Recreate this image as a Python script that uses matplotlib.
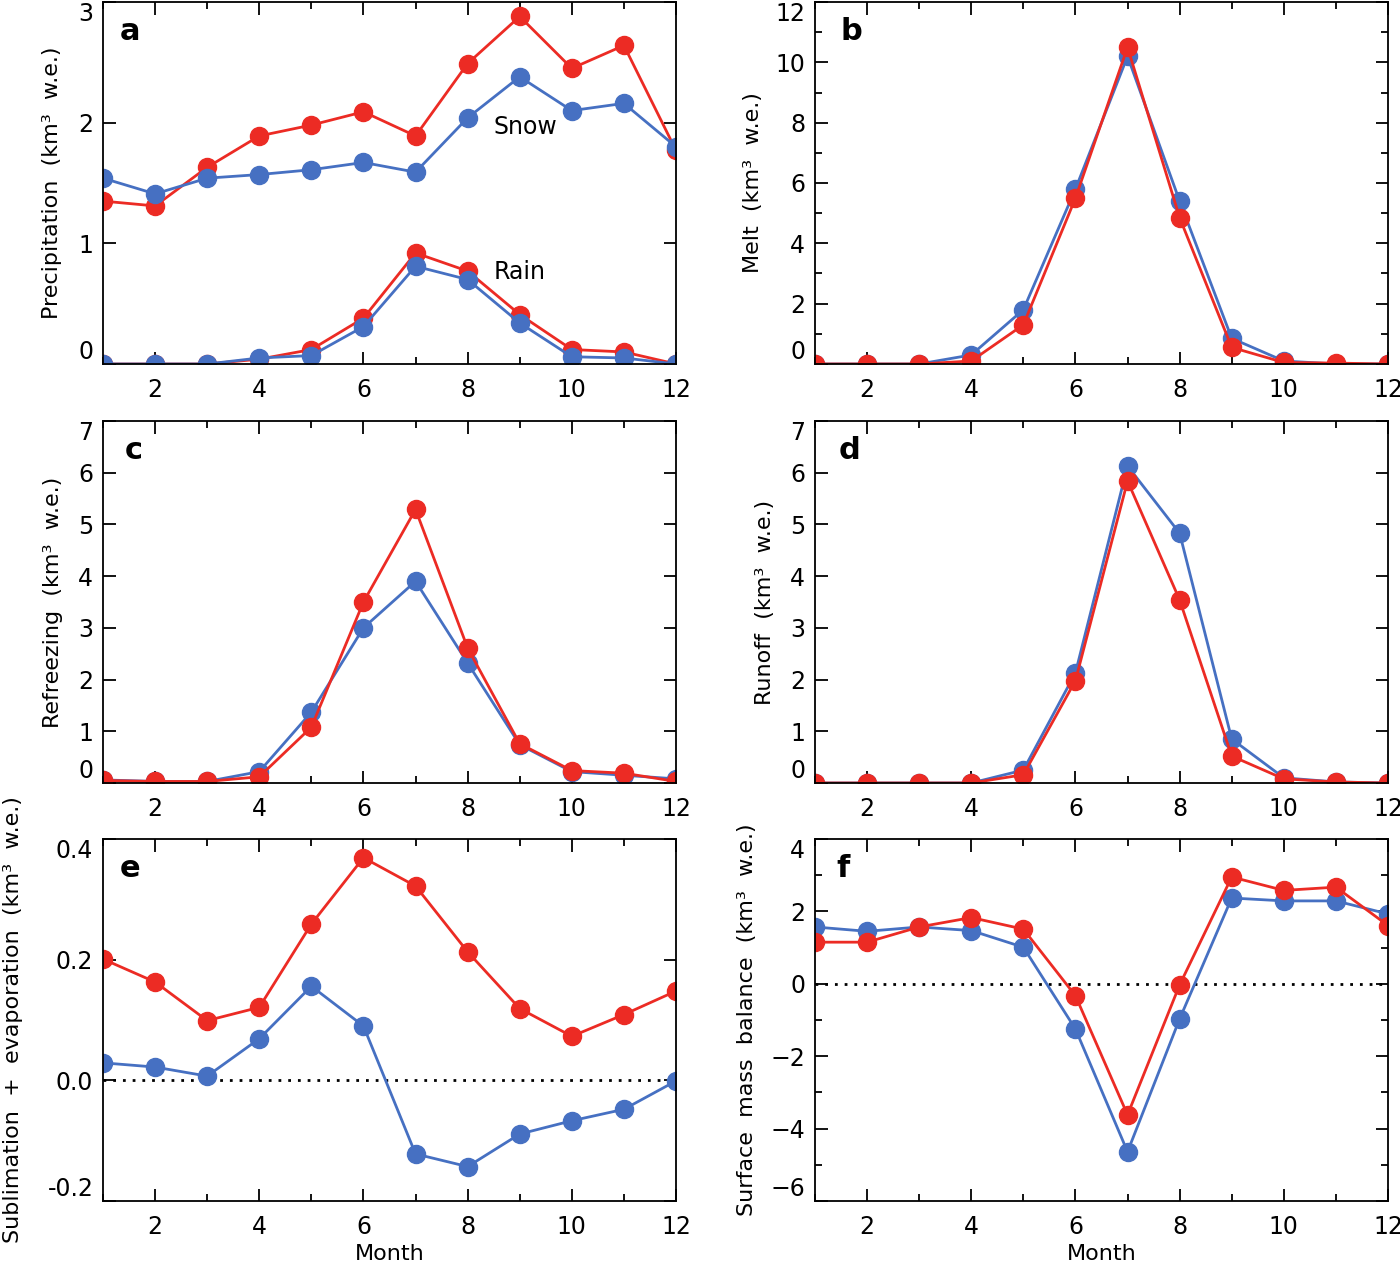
import numpy as np
import matplotlib.pyplot as plt
from matplotlib.ticker import MultipleLocator

months = np.arange(1, 13)

# a: precipitation (snow and rain)
snow_red = [1.35, 1.31, 1.63, 1.89, 1.98, 2.09, 1.89, 2.49, 2.88, 2.45, 2.64, 1.77]
snow_blue = [1.54, 1.41, 1.54, 1.57, 1.61, 1.67, 1.59, 2.04, 2.38, 2.10, 2.16, 1.80]
rain_red = [0.0, 0.0, 0.0, 0.04, 0.12, 0.38, 0.92, 0.77, 0.41, 0.12, 0.10, 0.0]
rain_blue = [0.0, 0.0, 0.0, 0.05, 0.07, 0.31, 0.81, 0.70, 0.34, 0.06, 0.05, 0.0]
# b: melt
melt_red = [0.0, 0.0, 0.0, 0.1, 1.3, 5.5, 10.5, 4.85, 0.55, 0.05, 0.03, 0.0]
melt_blue = [0.0, 0.0, 0.0, 0.3, 1.8, 5.8, 10.2, 5.4, 0.85, 0.1, 0.0, 0.0]
# c: refreezing
refr_red = [0.05, 0.03, 0.03, 0.12, 1.08, 3.5, 5.29, 2.61, 0.76, 0.24, 0.19, 0.03]
refr_blue = [0.06, 0.03, 0.03, 0.22, 1.37, 3.0, 3.9, 2.32, 0.74, 0.22, 0.15, 0.08]
# d: runoff
runoff_red = [0.0, 0.0, 0.0, 0.0, 0.16, 1.98, 5.84, 3.54, 0.52, 0.08, 0.02, 0.0]
runoff_blue = [0.0, 0.0, 0.0, 0.0, 0.25, 2.13, 6.13, 4.83, 0.85, 0.1, 0.02, 0.0]
# e: sublimation + evaporation
subl_red = [0.201, 0.163, 0.099, 0.121, 0.259, 0.369, 0.322, 0.213, 0.119, 0.073, 0.109, 0.148]
subl_blue = [0.029, 0.022, 0.007, 0.069, 0.156, 0.090, -0.122, -0.143, -0.089, -0.067, -0.048, -0.001]
# f: surface mass balance
smb_red = [1.15, 1.15, 1.57, 1.83, 1.51, -0.33, -3.62, -0.03, 2.95, 2.58, 2.67, 1.61]
smb_blue = [1.57, 1.45, 1.57, 1.47, 1.01, -1.25, -4.64, -0.97, 2.37, 2.29, 2.29, 1.93]

RED = '#ec2b24'
BLUE = '#4670c2'

plt.rcParams['font.family'] = ['DejaVu Sans']
plt.rcParams['font.size'] = 16

fig = plt.figure(figsize=(14, 12.67), dpi=100)

lefts = [103 / 1400, 815 / 1400]
bottoms = [1 - 364 / 1267, 1 - 783 / 1267, 1 - 1201 / 1267]
w = 573 / 1400
h = 362 / 1267

# letter, y label, y limits, major step, minor step, label x (axes fraction)
panels = [
    ('a', 'Precipitation  (km³  w.e.)', (0, 3), 1, None, -0.072),
    ('b', 'Melt  (km³  w.e.)', (0, 12), 2, 1, -0.091),
    ('c', 'Refreezing  (km³  w.e.)', (0, 7), 1, None, -0.070),
    ('d', 'Runoff  (km³  w.e.)', (0, 7), 1, None, -0.070),
    ('e', 'Sublimation  +  evaporation  (km³  w.e.)', (-0.2, 0.4), 0.2, None, -0.140),
    ('f', 'Surface  mass  balance  (km³  w.e.)', (-6, 4), 2, 1, -0.101),
]

letter_x = {'a': 0.030, 'b': 0.045, 'c': 0.038, 'd': 0.042, 'e': 0.030, 'f': 0.037}

axes = {}
for i, (letter, ylab, ylim, major, minor, labx) in enumerate(panels):
    row, col = divmod(i, 2)
    ax = fig.add_axes([lefts[col], bottoms[row], w, h])
    axes[letter] = ax
    ax.set_xlim(1, 12)
    ax.set_ylim(*ylim)
    ax.xaxis.set_major_locator(MultipleLocator(2))
    ax.xaxis.set_minor_locator(MultipleLocator(1))
    ax.set_yticks(np.round(np.arange(ylim[0], ylim[1] + major / 2, major), 3))
    if minor:
        ax.yaxis.set_minor_locator(MultipleLocator(minor))
    ax.tick_params(which='both', direction='in', top=True, right=True, width=1.3)
    ax.tick_params(which='major', length=9)
    ax.tick_params(which='minor', length=5)
    ax.tick_params(axis='x', pad=10, labelsize=17)
    ax.tick_params(axis='y', pad=7, labelsize=17)
    for sp in ax.spines.values():
        sp.set_linewidth(1.3)
    ax.set_ylabel(ylab, fontsize=16)
    ax.yaxis.set_label_coords(labx, 0.5)
    ax.text(letter_x[letter], 0.895, letter, transform=ax.transAxes,
            fontsize=22, fontweight='bold', ha='left', va='baseline')

style = dict(lw=2.0, marker='o', ms=13)

def pair(ax, red, blue, red_on_top=True):
    if red_on_top:
        ax.plot(months, blue, color=BLUE, **style)
        ax.plot(months, red, color=RED, **style)
    else:
        ax.plot(months, red, color=RED, **style)
        ax.plot(months, blue, color=BLUE, **style)

pair(axes['a'], snow_red, snow_blue, red_on_top=False)
pair(axes['a'], rain_red, rain_blue, red_on_top=False)
axes['a'].text(8.5, 1.96, 'Snow', fontsize=17, ha='left', va='center')
axes['a'].text(8.5, 0.76, 'Rain', fontsize=17, ha='left', va='center')

pair(axes['b'], melt_red, melt_blue)
pair(axes['c'], refr_red, refr_blue)
pair(axes['d'], runoff_red, runoff_blue)

for key in ('e', 'f'):
    axes[key].axhline(0, color='black', ls=(0, (1, 2.5)), lw=2, zorder=1)
    axes[key].set_xlabel('Month', fontsize=16, labelpad=4)

pair(axes['e'], subl_red, subl_blue)
pair(axes['f'], smb_red, smb_blue)
axes['e'].yaxis.set_major_formatter(plt.FormatStrFormatter('%.1f'))

# keep the end labels inside the frame, as in the original
for ax in axes.values():
    ticks = ax.yaxis.get_major_ticks()
    ticks[0].label1.set_verticalalignment('bottom')
    ticks[-1].label1.set_verticalalignment('top')

fig.savefig('out.png', dpi=100)
